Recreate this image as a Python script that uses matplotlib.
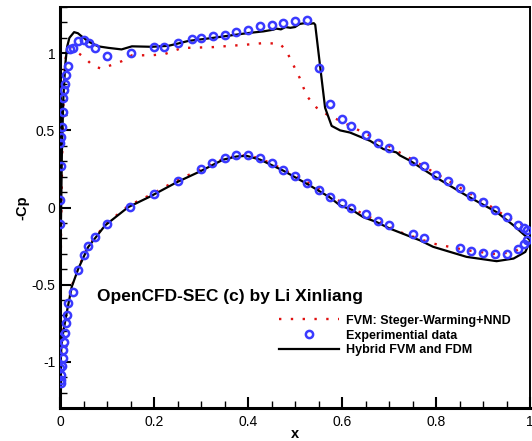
import matplotlib
matplotlib.use("Agg")
import matplotlib.pyplot as plt
from matplotlib.ticker import MultipleLocator

plt.rcParams['font.family'] = ['Liberation Sans', 'DejaVu Sans']

# Hybrid FVM/FDM solution, -Cp along upper and lower surface (from leading edge)
hyb_up_x = [0.0, 0.001, 0.002, 0.004, 0.007, 0.011, 0.015, 0.02, 0.03, 0.038, 0.046, 0.06,
            0.081, 0.103, 0.131, 0.153, 0.195, 0.23, 0.255, 0.273, 0.326, 0.397, 0.433, 0.454,
            0.46, 0.47, 0.48, 0.49, 0.50, 0.51, 0.52, 0.528, 0.54, 0.543, 0.553, 0.564, 0.578,
            0.596, 0.617, 0.66, 0.688, 0.716, 0.723, 0.745, 0.794, 0.865, 0.929, 0.965, 0.996, 1.0]
hyb_up_cp = [-1.18, -0.6, -0.1, 0.35, 0.7, 0.92, 1.04, 1.10, 1.137, 1.13, 1.11, 1.077,
             1.045, 1.035, 1.025, 1.045, 1.042, 1.048, 1.066, 1.08, 1.10, 1.13, 1.142, 1.153,
             1.16, 1.155, 1.17, 1.165, 1.17, 1.19, 1.195, 1.188, 1.195, 1.185, 0.927, 0.647, 0.529,
             0.50, 0.486, 0.432, 0.379, 0.357, 0.338, 0.303, 0.206, 0.077, -0.03, -0.116, -0.20, -0.21]
hyb_lo_x = [0.0, 0.001, 0.004, 0.014, 0.025, 0.039, 0.06, 0.096, 0.145, 0.191, 0.248, 0.298,
            0.347, 0.376, 0.397, 0.426, 0.475, 0.532, 0.574, 0.596, 0.621, 0.645, 0.674, 0.702,
            0.738, 0.766, 0.794, 0.865, 0.929, 0.965, 0.99, 0.998, 1.0]
hyb_lo_cp = [-1.18, -1.0, -0.858, -0.686, -0.514, -0.396, -0.256, -0.116, 0.002, 0.07, 0.163, 0.234,
             0.31, 0.331, 0.335, 0.31, 0.239, 0.142, 0.066, 0.013, -0.015, -0.062, -0.095, -0.137,
             -0.18, -0.213, -0.255, -0.32, -0.348, -0.331, -0.288, -0.234, -0.21]

# FVM: Steger-Warming + NND
fvm_up_x = [0.0, 0.002, 0.005, 0.008, 0.011, 0.015, 0.022, 0.032, 0.053, 0.071, 0.089, 0.106,
            0.131, 0.153, 0.195, 0.223, 0.259, 0.326, 0.397, 0.433, 0.468, 0.482, 0.496, 0.51,
            0.525, 0.546, 0.567, 0.589, 0.631, 0.674, 0.716, 0.75, 0.80, 0.85, 0.90, 0.95,
            0.975, 0.996]
fvm_up_cp = [-1.18, -0.2, 0.4, 0.75, 0.95, 1.02, 1.035, 1.017, 0.97, 0.916, 0.90, 0.92,
             0.948, 0.987, 0.987, 0.995, 1.034, 1.04, 1.056, 1.066, 1.062, 1.013, 0.927, 0.84,
             0.723, 0.647, 0.605, 0.572, 0.508, 0.443, 0.368, 0.31, 0.22, 0.13, 0.04, -0.06,
             -0.10, -0.127]
fvm_lo_x = [0.0, 0.004, 0.014, 0.025, 0.039, 0.06, 0.096, 0.145, 0.191, 0.248, 0.298, 0.347,
            0.376, 0.397, 0.426, 0.475, 0.532, 0.574, 0.621, 0.674, 0.723, 0.794, 0.865, 0.929,
            0.965, 0.985, 1.0]
fvm_lo_cp = [-1.18, -0.85, -0.68, -0.51, -0.39, -0.25, -0.11, 0.01, 0.08, 0.175, 0.245, 0.315,
             0.335, 0.34, 0.318, 0.248, 0.155, 0.078, -0.005, -0.085, -0.159, -0.234, -0.277, -0.303,
             -0.288, -0.256, -0.20]

# experimental data
exp_up_x = [0.0, 0.002, 0.0, 0.002, 0.004, 0.006, 0.007, 0.008, 0.010, 0.013, 0.016, 0.021,
            0.027, 0.038, 0.05, 0.062, 0.074, 0.099, 0.15, 0.2, 0.221, 0.25, 0.28, 0.30, 0.325,
            0.35, 0.374, 0.40, 0.425, 0.45, 0.475, 0.5, 0.525, 0.55, 0.574, 0.6, 0.62, 0.65,
            0.677, 0.70, 0.75, 0.775, 0.80, 0.825, 0.85, 0.875, 0.90, 0.925, 0.95, 0.975,
            0.987, 0.993]
exp_up_cp = [0.05, 0.27, 0.42, 0.46, 0.52, 0.62, 0.71, 0.76, 0.80, 0.86, 0.92, 1.03,
             1.034, 1.08, 1.086, 1.066, 1.034, 0.98, 1.0, 1.039, 1.04, 1.066, 1.095, 1.10, 1.11,
             1.12, 1.14, 1.15, 1.174, 1.185, 1.196, 1.206, 1.213, 0.905, 0.669, 0.572, 0.529, 0.471,
             0.421, 0.389, 0.30, 0.267, 0.213, 0.17, 0.125, 0.077, 0.034, -0.013, -0.062, -0.112,
             -0.133, -0.148]
exp_lo_x = [0.0, 0.002, 0.002, 0.002, 0.004, 0.0, 0.006, 0.007, 0.009, 0.0, 0.011, 0.012,
            0.014, 0.018, 0.028, 0.038, 0.05, 0.06, 0.074, 0.099, 0.149, 0.2, 0.25, 0.3, 0.324,
            0.35, 0.374, 0.4, 0.426, 0.45, 0.475, 0.5, 0.525, 0.55, 0.574, 0.6, 0.619, 0.65,
            0.677, 0.7, 0.75, 0.774, 0.85, 0.874, 0.899, 0.926, 0.95, 0.975, 0.987, 0.993]
exp_lo_cp = [-0.105, -1.137, -1.116, -1.084, -1.03, -1.04, -0.976, -0.923, -0.869, -0.837, -0.815, -0.75,
             -0.697, -0.62, -0.546, -0.406, -0.31, -0.252, -0.19, -0.105, 0.006, 0.09, 0.174, 0.25, 0.288,
             0.32, 0.34, 0.34, 0.318, 0.286, 0.245, 0.206, 0.159, 0.114, 0.071, 0.028, -0.002, -0.045,
             -0.088, -0.116, -0.175, -0.198, -0.262, -0.282, -0.295, -0.303, -0.299, -0.271, -0.239, -0.213]

fig = plt.figure(figsize=(5.32, 4.41), dpi=100)
ax = fig.add_axes([60/532, 33/441, 470/532, 401/441])

red_dots = dict(color='#e01010', lw=1.7, linestyle=(0, (1, 4)))
ax.plot(fvm_lo_x, fvm_lo_cp, **red_dots)
ax.plot(fvm_up_x, fvm_up_cp, label='FVM: Steger-Warming+NND', **red_dots)
ax.plot(exp_up_x + exp_lo_x, exp_up_cp + exp_lo_cp, 'o', ms=5.2, mfc='none', mec='#3a3aff',
        mew=1.8, label='Experimential data', zorder=3)
ax.plot(hyb_lo_x, hyb_lo_cp, color='black', lw=1.6)
ax.plot(hyb_up_x, hyb_up_cp, color='black', lw=1.6, label='Hybrid FVM and FDM')

ax.set_xlim(0, 1)
ax.set_ylim(-1.3, 1.3)
ax.xaxis.set_major_locator(MultipleLocator(0.2))
ax.xaxis.set_minor_locator(MultipleLocator(0.05))
ax.yaxis.set_major_locator(MultipleLocator(0.5))
ax.yaxis.set_minor_locator(MultipleLocator(0.1))
ax.xaxis.set_major_formatter(plt.FuncFormatter(lambda v, p: f'{v:g}'))
ax.yaxis.set_major_formatter(plt.FuncFormatter(lambda v, p: f'{v:g}'))
ax.tick_params(which='both', direction='in', labelsize=10, top=False, right=False)
ax.tick_params(which='major', length=8, width=1.5)
ax.tick_params(which='minor', length=5, width=1.0)
ax.tick_params(axis='x', pad=5)
for side in ['left', 'bottom']:
    ax.spines[side].set_linewidth(2.2)
for side in ['right', 'top']:
    ax.spines[side].set_linewidth(1.4)

ax.set_xlabel('x', fontsize=10.5, fontweight='bold', labelpad=-1.5)
ax.set_ylabel('-Cp', fontsize=10.5, fontweight='bold', labelpad=1)

ax.text(97/532, 1 - 297/441, 'OpenCFD-SEC (c) by Li Xinliang', transform=fig.transFigure,
        fontsize=12.5, fontweight='bold', va='center', ha='left')

leg = ax.legend(loc='upper left', bbox_to_anchor=(270/532, 1 - 306/441),
                bbox_transform=fig.transFigure, frameon=False, handlelength=4.8,
                handletextpad=0.55, labelspacing=0.22, numpoints=1, borderpad=0.2,
                prop={'weight': 'bold', 'size': 9})

fig.savefig('out.png', dpi=100)
